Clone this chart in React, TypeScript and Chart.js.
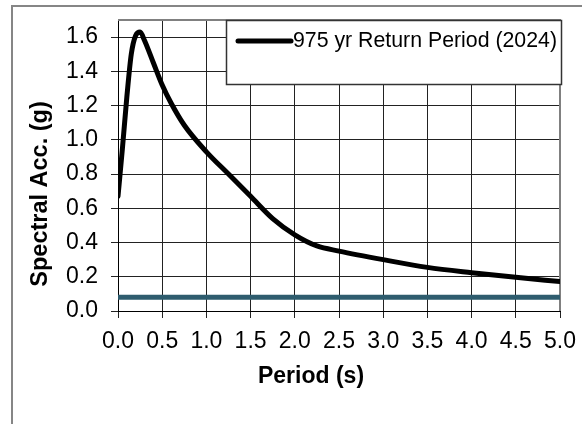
import React, { useEffect, useRef } from "react";
import { Chart, registerables } from "chart.js";

Chart.register(...registerables);

// ---- data ----
const periods = [0, 0.05, 0.1, 0.15, 0.2, 0.25, 0.3, 0.4, 0.5, 0.6, 0.75, 1.0, 1.25, 1.5, 1.75, 2.0, 2.25, 2.5, 3.0, 3.5, 4.0, 4.5, 5.0];
const spectralAcc = [0.67, 0.95, 1.25, 1.5, 1.61, 1.63, 1.58, 1.45, 1.32, 1.215, 1.085, 0.93, 0.8, 0.67, 0.54, 0.445, 0.38, 0.35, 0.3, 0.255, 0.224, 0.197, 0.172];
const basePeriods = [0, 5];
const baseValues = [0.08, 0.08];
const seriesLabel = "975 yr Return Period (2024)";
const xTitle = "Period (s)";
const yTitle = "Spectral Acc. (g)";

const FONT = "'Liberation Sans', Arial, sans-serif";

const decor = {
  id: "decor",
  beforeDraw(chart: any) {
    const ctx = chart.ctx;
    ctx.save();
    ctx.fillStyle = "#fff";
    ctx.fillRect(0, 0, chart.width, chart.height);
    ctx.strokeStyle = "#868686";
    ctx.lineWidth = 2;
    ctx.beginPath();
    ctx.moveTo(12, chart.height + 5);
    ctx.lineTo(12, 6);
    ctx.lineTo(chart.width + 5, 6);
    ctx.stroke();
    ctx.restore();
  },
  beforeDatasetsDraw(chart: any) {
    const { ctx, chartArea: a } = chart;
    ctx.save();
    ctx.strokeStyle = "#808080";
    ctx.lineWidth = 2;
    ctx.beginPath();
    ctx.moveTo(a.left, a.top);
    ctx.lineTo(a.right, a.top);
    ctx.lineTo(a.right, a.bottom);
    ctx.stroke();
    ctx.restore();
  },
  afterDraw(chart: any) {
    const ctx = chart.ctx;
    ctx.save();
    // legend
    ctx.fillStyle = "#fff";
    ctx.fillRect(226, 20, 336, 65);
    ctx.strokeStyle = "#333";
    ctx.lineWidth = 1.5;
    ctx.strokeRect(226.5, 20.5, 335, 64);
    ctx.strokeStyle = "#000";
    ctx.lineWidth = 5;
    ctx.lineCap = "round";
    ctx.beginPath();
    ctx.moveTo(238, 41);
    ctx.lineTo(291, 41);
    ctx.stroke();
    ctx.fillStyle = "#000";
    ctx.font = `21.3px ${FONT}`;
    ctx.textBaseline = "middle";
    ctx.textAlign = "left";
    ctx.fillText(chart.data.datasets[0].label, 293, 41);
    // axis titles
    ctx.font = `bold 23px ${FONT}`;
    ctx.textAlign = "center";
    ctx.fillText(xTitle, 311, 377);
    ctx.font = `bold 23.5px ${FONT}`;
    ctx.translate(41, 194);
    ctx.rotate(-Math.PI / 2);
    ctx.fillText(yTitle, 0, 0);
    ctx.restore();
  },
};

const noPad = (s: any) => {
  s.paddingTop = 0;
  s.paddingBottom = 0;
  s.paddingLeft = 0;
  s.paddingRight = 0;
};

export default function App() {
  const ref = useRef<HTMLCanvasElement | null>(null);
  useEffect(() => {
    if (!ref.current) return;
    const chart = new Chart(ref.current, {
      type: "line",
      data: {
        datasets: [
          {
            label: seriesLabel,
            data: periods.map((p, i) => ({ x: p, y: spectralAcc[i] })),
            borderColor: "#000",
            borderWidth: 5,
            pointRadius: 0,
            cubicInterpolationMode: "monotone",
            borderJoinStyle: "round",
            borderCapStyle: "round",
            fill: false,
          },
          {
            label: "Base",
            data: basePeriods.map((p, i) => ({ x: p, y: baseValues[i] })),
            borderColor: "#2e5c6e",
            borderWidth: 5,
            pointRadius: 0,
            fill: false,
          },
        ],
      },
      options: {
        responsive: false,
        animation: false,
        layout: { padding: { top: 20, right: 22, left: 0, bottom: 0 } },
        plugins: { legend: { display: false }, tooltip: { enabled: false } },
        scales: {
          x: {
            type: "linear",
            min: 0,
            max: 5,
            afterFit: (s: any) => { s.height = 113; noPad(s); },
            ticks: {
              stepSize: 0.5,
              color: "#000",
              font: { size: 23, family: FONT },
              padding: 10,
              maxRotation: 0,
              autoSkip: false,
              callback: (v: any) => Number(v).toFixed(1),
            },
            grid: { color: "#222", lineWidth: 1, tickLength: 7, drawTicks: true },
            border: { color: "#000", width: 1 },
          },
          y: {
            type: "linear",
            min: 0,
            max: 1.7,
            afterFit: (s: any) => { s.width = 118; noPad(s); },
            ticks: {
              stepSize: 0.2,
              includeBounds: false,
              color: "#000",
              font: { size: 23, family: FONT },
              padding: 13,
              callback: (v: any) => Number(v).toFixed(1),
            },
            grid: { color: "#222", lineWidth: 1, tickLength: 7, drawTicks: true },
            border: { color: "#000", width: 1 },
          },
        },
      },
      plugins: [decor],
    } as any);
    return () => chart.destroy();
  }, []);
  return (
    <div style={{ position: "fixed", left: 0, top: 0, width: 582, height: 424 }}>
      <canvas ref={ref} width={582} height={424} />
    </div>
  );
}
